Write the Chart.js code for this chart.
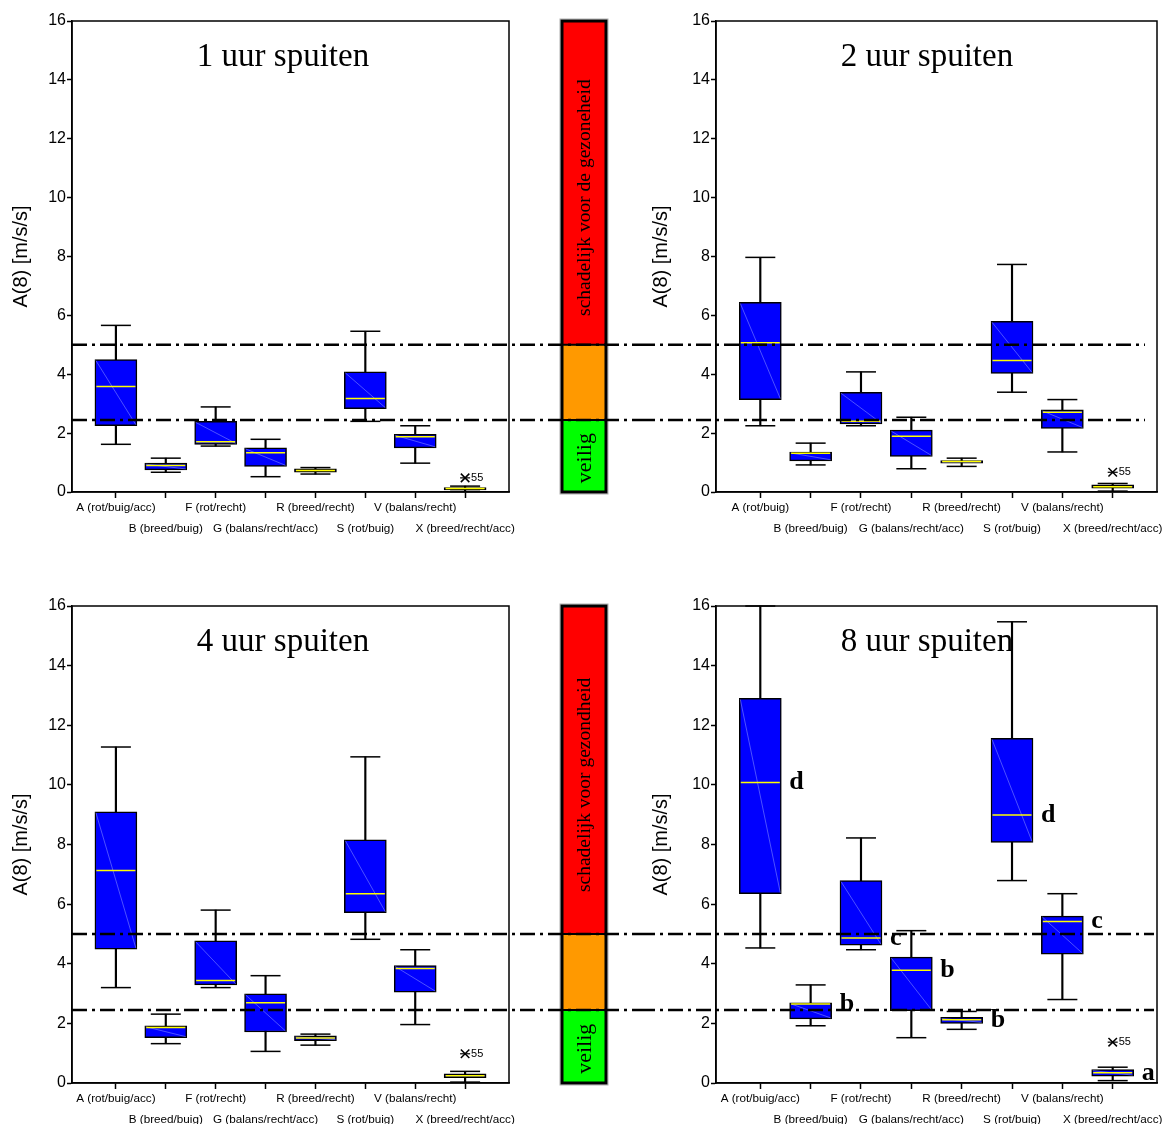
<!DOCTYPE html>
<html>
<head>
<meta charset="utf-8">
<script src="https://cdn.jsdelivr.net/npm/chart.js@4.4.0/dist/chart.umd.min.js"></script>
<style>
html,body{margin:0;padding:0;background:#fff;}
body{width:1167px;height:1124px;position:relative;overflow:hidden;}
canvas{position:absolute;}
</style>
</head>
<body>
<canvas id="c1" width="640" height="545" style="left:0;top:0"></canvas>
<canvas id="c2" width="538" height="545" style="left:640px;top:0"></canvas>
<canvas id="c3" width="640" height="579" style="left:0;top:545px"></canvas>
<canvas id="c4" width="538" height="579" style="left:640px;top:545px"></canvas>
<script>
// ---------------- DATA ----------------
const catsAcc = ['A (rot/buig/acc)', 'B (breed/buig)', 'F (rot/recht)', 'G (balans/recht/acc)', 'R (breed/recht)', 'S (rot/buig)', 'V (balans/recht)', 'X (breed/recht/acc)'];
const catsNoAcc = ['A (rot/buig)', 'B (breed/buig)', 'F (rot/recht)', 'G (balans/recht/acc)', 'R (breed/recht)', 'S (rot/buig)', 'V (balans/recht)', 'X (breed/recht/acc)'];
const yTicks = [0, 2, 4, 6, 8, 10, 12, 14, 16];
const thresholds = [5, 2.45];

// 1 uur spuiten
const u1Min = [1.62, 0.67, 1.56, 0.52, 0.61, 2.40, 0.98, 0.02];
const u1Q1  = [2.25, 0.75, 1.62, 0.87, 0.67, 2.83, 1.50, 0.07];
const u1Med = [3.58, 0.90, 1.71, 1.33, 0.73, 3.18, 1.88, 0.12];
const u1Q3  = [4.50, 0.98, 2.40, 1.50, 0.79, 4.08, 1.96, 0.15];
const u1Max = [5.66, 1.15, 2.89, 1.79, 0.83, 5.46, 2.25, 0.20];
const u1Out = [{cat: 7, value: 0.48, label: '55'}];

// 2 uur spuiten
const u2Min = [2.25, 0.92, 2.25, 0.79, 0.87, 3.39, 1.36, 0.03];
const u2Q1  = [3.14, 1.06, 2.31, 1.21, 0.98, 4.03, 2.16, 0.13];
const u2Med = [5.07, 1.32, 2.40, 1.89, 1.04, 4.47, 2.71, 0.18];
const u2Q3  = [6.44, 1.36, 3.39, 2.10, 1.07, 5.80, 2.79, 0.24];
const u2Max = [7.97, 1.66, 4.08, 2.54, 1.15, 7.73, 3.14, 0.29];
const u2Out = [{cat: 7, value: 0.67, label: '55'}];

// 4 uur spuiten
const u4Min = [3.20, 1.32, 3.20, 1.06, 1.27, 4.82, 1.96, 0.03];
const u4Q1  = [4.49, 1.52, 3.29, 1.71, 1.42, 5.71, 3.05, 0.18];
const u4Med = [7.13, 1.86, 3.44, 2.69, 1.51, 6.35, 3.84, 0.24];
const u4Q3  = [9.10, 1.92, 4.77, 2.99, 1.58, 8.16, 3.94, 0.31];
const u4Max = [11.27, 2.31, 5.80, 3.60, 1.64, 10.94, 4.47, 0.39];
const u4Out = [{cat: 7, value: 0.98, label: '55'}];

// 8 uur spuiten
const u8Min = [4.53, 1.92, 4.47, 1.52, 1.80, 6.79, 2.80, 0.08];
const u8Q1  = [6.35, 2.15, 4.62, 2.43, 2.00, 8.07, 4.32, 0.23];
const u8Med = [10.08, 2.65, 4.86, 3.78, 2.12, 8.99, 5.42, 0.34];
const u8Q3  = [12.90, 2.69, 6.79, 4.22, 2.20, 11.56, 5.60, 0.45];
const u8Max = [16.00, 3.29, 8.22, 5.11, 2.40, 15.47, 6.35, 0.53];
const u8Out = [{cat: 7, value: 1.37, label: '55'}];
const u8Letters = ['d', 'b', 'c', 'b', 'b', 'd', 'c', 'a'];

// ---------------- CHARTS ----------------
Chart.defaults.font.family = '"Liberation Sans", Arial, sans-serif';
Chart.defaults.color = '#000';

const panels = [
  {id: 'c1', title: '1 uur spuiten', cats: catsAcc, min: u1Min, q1: u1Q1, med: u1Med, q3: u1Q3, max: u1Max, out: u1Out,
   side: 'left', bar: 'schadelijk voor de gezoneheid', padTop: 15, xH: 53, yW: 72, padRight: 131, lineEndOff: 0},
  {id: 'c2', title: '2 uur spuiten', cats: catsNoAcc, min: u2Min, q1: u2Q1, med: u2Med, q3: u2Q3, max: u2Max, out: u2Out,
   side: 'right', padTop: 15, xH: 53, yW: 76, padRight: 0, lineEndOff: 12},
  {id: 'c3', title: '4 uur spuiten', cats: catsAcc, min: u4Min, q1: u4Q1, med: u4Med, q3: u4Q3, max: u4Max, out: u4Out,
   side: 'left', bar: 'schadelijk voor gezondheid', padTop: 61, xH: 41, yW: 72, padRight: 131, lineEndOff: 0},
  {id: 'c4', title: '8 uur spuiten', cats: catsAcc, min: u8Min, q1: u8Q1, med: u8Med, q3: u8Q3, max: u8Max, out: u8Out,
   side: 'right', padTop: 61, xH: 41, yW: 76, padRight: 0, lineEndOff: 3, letters: u8Letters}
];

function makePlugin(p) {
  return {
    id: 'panelDeco',
    afterDatasetDraw(chart, args) {
      const ds = chart.data.datasets[args.index];
      if (!ds.isBox) return;
      const ctx = chart.ctx;
      ctx.save();
      ctx.strokeStyle = 'rgba(150,160,255,0.85)';
      ctx.lineWidth = 0.6;
      args.meta.data.forEach(el => {
        const pr = el.getProps(['x', 'y', 'base', 'width'], true);
        const top = Math.min(pr.y, pr.base), bot = Math.max(pr.y, pr.base);
        if (bot - top < 4) return;
        ctx.beginPath();
        ctx.moveTo(pr.x - pr.width / 2 + 1, top + 1);
        ctx.lineTo(pr.x + pr.width / 2 - 1, bot - 1);
        ctx.stroke();
      });
      ctx.restore();
    },
    afterDraw(chart) {
      const ctx = chart.ctx, a = chart.chartArea, xs = chart.scales.x, ys = chart.scales.y;
      ctx.save();
      // frame
      ctx.strokeStyle = '#000';
      ctx.lineWidth = 1.5;
      ctx.strokeRect(a.left, a.top, a.right - a.left, a.bottom - a.top);

      // colour bar
      if (p.bar) {
        const L = 562, R = 606;
        const yTop = ys.getPixelForValue(16), yBot = ys.getPixelForValue(0);
        const y5 = ys.getPixelForValue(thresholds[0]), y25 = ys.getPixelForValue(thresholds[1]);
        ctx.fillStyle = '#ff0000'; ctx.fillRect(L, yTop, R - L, y5 - yTop);
        ctx.fillStyle = '#ff9900'; ctx.fillRect(L, y5, R - L, y25 - y5);
        ctx.fillStyle = '#00ff00'; ctx.fillRect(L, y25, R - L, yBot - y25);
        ctx.strokeStyle = '#b0b0b0'; ctx.lineWidth = 1;
        ctx.strokeRect(L - 2, yTop - 2, R - L + 4, yBot - yTop + 4);
        ctx.strokeStyle = '#000'; ctx.lineWidth = 3;
        ctx.strokeRect(L, yTop, R - L, yBot - yTop);
        ctx.lineWidth = 2;
        [y5, y25].forEach(yy => { ctx.beginPath(); ctx.moveTo(L, yy); ctx.lineTo(R, yy); ctx.stroke(); });
        ctx.fillStyle = '#000';
        ctx.textAlign = 'center';
        ctx.textBaseline = 'middle';
        const cx = (L + R) / 2 + 1;
        ctx.font = '19.5px "Liberation Serif", "Times New Roman", serif';
        ctx.save(); ctx.translate(cx, ys.getPixelForValue(10)); ctx.rotate(-Math.PI / 2);
        ctx.fillText(p.bar, 0, 0); ctx.restore();
        ctx.font = '22px "Liberation Serif", "Times New Roman", serif';
        ctx.save(); ctx.translate(cx, ys.getPixelForValue(1.15)); ctx.rotate(-Math.PI / 2);
        ctx.fillText('veilig', 0, 0); ctx.restore();
      }

      // dash-dot threshold lines
      ctx.strokeStyle = '#000';
      ctx.lineWidth = 2.5;
      ctx.setLineDash([15, 5, 3, 5]);
      thresholds.forEach(t => {
        const yy = ys.getPixelForValue(t);
        const x0 = p.side === 'left' ? a.left : 0;
        const x1 = p.side === 'left' ? chart.width : a.right - p.lineEndOff;
        ctx.beginPath(); ctx.moveTo(x0, yy); ctx.lineTo(x1, yy); ctx.stroke();
      });
      ctx.setLineDash([]);

      // title
      ctx.fillStyle = '#000';
      ctx.font = '33px "Liberation Serif", "Times New Roman", serif';
      ctx.textAlign = 'center';
      ctx.textBaseline = 'alphabetic';
      ctx.fillText(p.title, a.left + 211, a.top + 45);

      // outlier labels
      ctx.font = '11px "Liberation Sans", Arial, sans-serif';
      ctx.textAlign = 'left';
      ctx.textBaseline = 'middle';
      p.out.forEach(o => {
        ctx.fillText(o.label, xs.getPixelForValue(o.cat) + 6, ys.getPixelForValue(o.value));
      });

      // significance letters
      if (p.letters) {
        ctx.font = 'bold 26px "Liberation Serif", "Times New Roman", serif';
        ctx.textAlign = 'left';
        ctx.textBaseline = 'middle';
        p.letters.forEach((l, i) => {
          ctx.fillText(l, xs.getPixelForValue(i) + 21 + 8, ys.getPixelForValue(p.med[i]));
        });
      }
      ctx.restore();
    }
  };
}

panels.forEach(p => {
  const idx = p.cats.map((_, i) => i);
  const datasets = [
    {type: 'bar', label: 'whisker', data: idx.map(i => ({x: i, y: [p.min[i], p.max[i]]})),
     backgroundColor: '#000', borderWidth: 0, barThickness: 1.5, grouped: false, order: 5, clip: false},
    {type: 'bar', label: 'box', isBox: true, data: idx.map(i => ({x: i, y: [p.q1[i], p.q3[i]]})),
     backgroundColor: '#0000ff', borderColor: '#000', borderWidth: 1.5, borderSkipped: false,
     barThickness: 42, grouped: false, order: 4},
    {type: 'scatter', label: 'caps', data: idx.flatMap(i => [{x: i, y: p.min[i]}, {x: i, y: p.max[i]}]),
     pointStyle: 'line', pointRadius: 15, borderColor: '#000', borderWidth: 1.5, order: 3, clip: false},
    {type: 'scatter', label: 'median', data: idx.map(i => ({x: i, y: p.med[i]})),
     pointStyle: 'line', pointRadius: 19.5, borderColor: '#ffff00', borderWidth: 1.5, order: 2},
    {type: 'scatter', label: 'outlier', data: p.out.map(o => ({x: o.cat, y: o.value})),
     pointStyle: 'crossRot', pointRadius: 6, borderColor: '#000', borderWidth: 1.5, order: 1, clip: false},
    {type: 'scatter', label: 'outlier2', data: p.out.map(o => ({x: o.cat, y: o.value})),
     pointStyle: 'line', pointRadius: 5, borderColor: '#000', borderWidth: 1.2, order: 1, clip: false}
  ];
  new Chart(document.getElementById(p.id), {
    type: 'bar',
    data: {datasets},
    plugins: [makePlugin(p)],
    options: {
      responsive: false,
      animation: false,
      events: [],
      layout: {padding: {left: 0, top: p.padTop, right: p.padRight, bottom: 0}},
      plugins: {legend: {display: false}, tooltip: {enabled: false}, title: {display: false}},
      scales: {
        x: {
          type: 'linear', min: -0.88, max: 7.88, offset: false,
          afterBuildTicks: s => { s.ticks = idx.map(i => ({value: i})); },
          afterFit: s => { s.height = p.xH; },
          grid: {offset: false, drawOnChartArea: false, drawTicks: true, tickLength: 6, tickColor: '#000', tickWidth: 1.5},
          border: {display: true, color: '#000', width: 1.5},
          ticks: {
            autoSkip: false, maxRotation: 0, minRotation: 0, padding: 0,
            font: {size: 11.7, lineHeight: 1.75}, color: '#000',
            callback: (v, i) => (i % 2 === 0 ? p.cats[i] : ['', p.cats[i]])
          }
        },
        y: {
          type: 'linear', min: 0, max: 16,
          afterBuildTicks: s => { s.ticks = yTicks.map(v => ({value: v})); },
          afterFit: s => { s.width = p.yW; },
          grid: {drawOnChartArea: false, drawTicks: true, tickLength: 5, tickColor: '#000', tickWidth: 1.5},
          border: {display: true, color: '#000', width: 1.5},
          ticks: {font: {size: 16}, color: '#000', padding: 1},
          title: {display: true, text: 'A(8) [m/s/s]', font: {size: 20}, color: '#000', padding: {top: 9, bottom: 4}}
        }
      }
    }
  });
});
</script>
</body>
</html>
